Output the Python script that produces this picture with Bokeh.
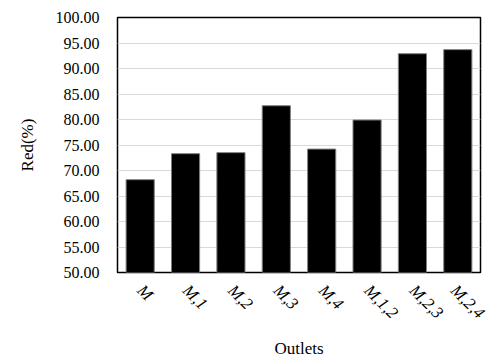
import math
from bokeh.plotting import figure
from bokeh.models import ColumnDataSource, FactorRange, Range1d, FixedTicker, NumeralTickFormatter
from bokeh.embed import file_html
from bokeh.resources import INLINE

categories = ["M", "M,1", "M,2", "M,3", "M,4", "M,1,2", "M,2,3", "M,2,4"]
red_values = [68.2, 73.3, 73.5, 82.7, 74.2, 79.9, 92.9, 93.7]
y_ticks = [50, 55, 60, 65, 70, 75, 80, 85, 90, 95, 100]

src = ColumnDataSource(dict(cat=categories, val=red_values))

p = figure(x_range=FactorRange(*categories, range_padding=0), y_range=Range1d(50, 100),
           frame_width=363, frame_height=255, output_backend="svg", toolbar_location=None,
           min_border_left=117, min_border_right=8, min_border_top=17, min_border_bottom=10)

p.vbar(x="cat", top="val", bottom=50, width=0.62, source=src,
       fill_color="black", line_color="#7f7f7f", line_width=1)

font = "Liberation Serif"
p.outline_line_color = "black"
p.outline_line_width = 1.5
p.background_fill_color = "white"
p.border_fill_color = "white"

p.xgrid.grid_line_color = None
p.ygrid.grid_line_color = "#d9d9d9"
p.ygrid.grid_line_width = 1

p.yaxis.ticker = FixedTicker(ticks=y_ticks)
p.yaxis.formatter = NumeralTickFormatter(format="0.00")
for ax in (p.xaxis[0], p.yaxis[0]):
    ax.axis_line_color = None
    ax.major_tick_line_color = None
    ax.minor_tick_line_color = None
    ax.major_label_text_font = font
    ax.major_label_text_font_size = "16px"
    ax.major_label_text_color = "black"
    ax.axis_label_text_font = font
    ax.axis_label_text_font_size = "17px"
    ax.axis_label_text_font_style = "normal"
    ax.axis_label_text_color = "black"

p.yaxis.axis_label = "Red(%)"
p.yaxis.major_label_standoff = 12
p.yaxis.axis_label_standoff = 16

p.xaxis.axis_label = "Outlets"
p.xaxis.major_label_orientation = -math.pi / 4
p.xaxis.major_label_text_font_style = "italic"
p.xaxis.major_label_text_font_size = "17px"
p.xaxis.major_label_standoff = 9
p.xaxis.axis_label_standoff = 7

open("out.html", "w").write(file_html(p, INLINE))
